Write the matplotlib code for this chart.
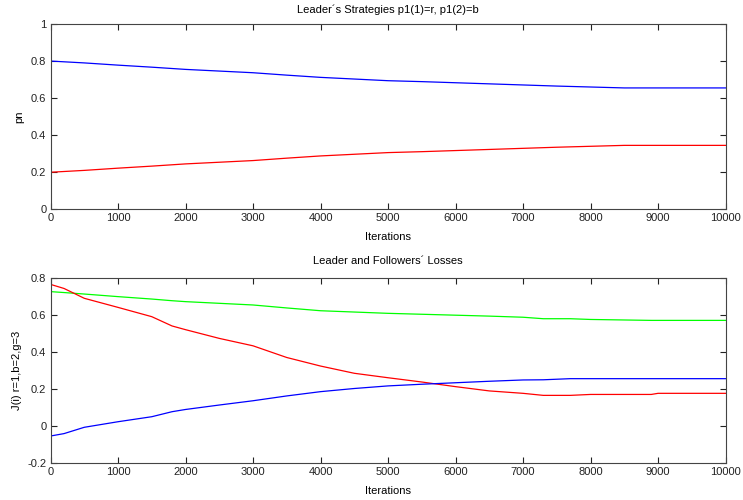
import matplotlib
matplotlib.use("Agg")
import matplotlib.pyplot as plt
from matplotlib.ticker import FuncFormatter

plt.rcParams['font.family'] = ['Liberation Sans', 'DejaVu Sans']

# Top panel: leader's strategies
iters_top = [0, 500, 1000, 1500, 2000, 2500, 3000, 3500, 4000, 4500, 5000,
             5500, 6000, 6500, 7000, 7500, 8000, 8500, 9000, 10000]
p_blue = [0.800, 0.790, 0.778, 0.767, 0.755, 0.746, 0.737, 0.724, 0.712, 0.703, 0.694,
          0.689, 0.683, 0.677, 0.671, 0.665, 0.660, 0.655, 0.655, 0.655]
p_red = [1 - v for v in p_blue]

# Bottom panel: losses
iters_bot = [0, 200, 500, 1000, 1500, 1800, 2000, 2500, 3000, 3500, 4000, 4500, 5000,
             5500, 6000, 6500, 7000, 7300, 7700, 8000, 8900, 9000, 10000]
j_red = [0.764, 0.742, 0.689, 0.640, 0.590, 0.540, 0.520, 0.473, 0.433, 0.370, 0.324,
         0.285, 0.261, 0.238, 0.213, 0.190, 0.177, 0.166, 0.166, 0.171, 0.171, 0.177, 0.177]
j_blue = [-0.053, -0.040, -0.006, 0.024, 0.051, 0.078, 0.090, 0.114, 0.137, 0.163, 0.186,
          0.203, 0.217, 0.226, 0.234, 0.242, 0.249, 0.250, 0.256, 0.256, 0.256, 0.256, 0.256]
j_green = [0.725, 0.720, 0.712, 0.698, 0.685, 0.676, 0.671, 0.662, 0.653, 0.637, 0.622,
           0.615, 0.608, 0.603, 0.598, 0.593, 0.587, 0.579, 0.579, 0.575, 0.570, 0.570, 0.570]

xticks = list(range(0, 10001, 1000))
top_yticks = [0, 0.2, 0.4, 0.6, 0.8, 1]
bot_yticks = [-0.2, 0, 0.2, 0.4, 0.6, 0.8]

fig = plt.figure(figsize=(7.43, 5.00), dpi=100)
ax1 = fig.add_axes([0.068, 0.5814, 0.9085, 0.3706])
ax2 = fig.add_axes([0.068, 0.0734, 0.9085, 0.3712])

fmt = FuncFormatter(lambda v, p: ('%g' % round(v, 3)))

def style(ax):
    ax.set_xlim(0, 10000)
    ax.set_xticks(xticks)
    ax.tick_params(direction='in', length=4, width=0.8, top=True, right=True,
                   labelsize=8, pad=3, colors='#222222')
    for s in ax.spines.values():
        s.set_color('#444444')
        s.set_linewidth(0.8)
    ax.yaxis.set_major_formatter(fmt)
    ax.set_xlabel('Iterations', fontsize=8, labelpad=6)

ax1.plot(iters_top, p_blue, color='#0000ff', lw=0.9)
ax1.plot(iters_top, p_red, color='#ff0000', lw=0.9)
ax1.set_ylim(0, 1)
ax1.set_yticks(top_yticks)
style(ax1)
ax1.set_ylabel('pn', fontsize=8, labelpad=5)
ax1.set_title('Leader\u00b4s Strategies p1(1)=r, p1(2)=b', fontsize=8, pad=8)

ax2.plot(iters_bot, j_green, color='#00ff00', lw=0.9)
ax2.plot(iters_bot, j_red, color='#ff0000', lw=0.9)
ax2.plot(iters_bot, j_blue, color='#0000ff', lw=0.9)
ax2.set_ylim(-0.2, 0.8)
ax2.set_yticks(bot_yticks)
style(ax2)
ax2.set_ylabel('J(i) r=1,b=2,g=3', fontsize=8, labelpad=4)
ax2.set_title('Leader and Followers\u00b4 Losses', fontsize=8, pad=10)

fig.savefig('out.png', dpi=100)
